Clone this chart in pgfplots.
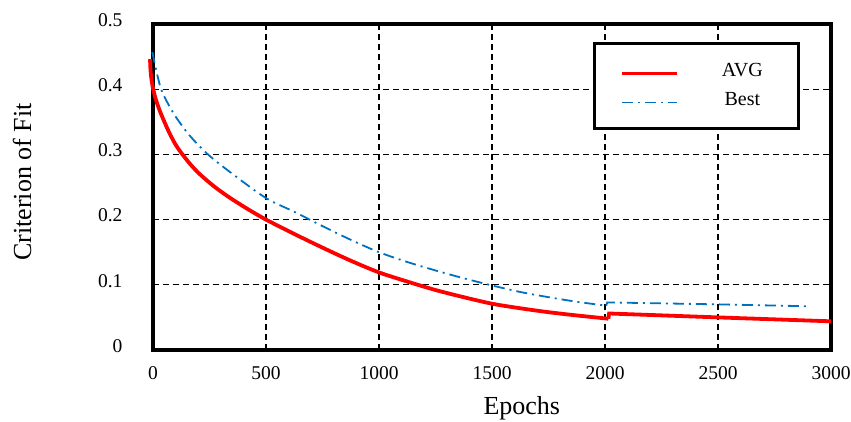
\documentclass[border=0pt]{standalone}
\usepackage{pgfplots}
\pgfplotsset{compat=1.18}
\usepackage{fontspec}
\setmainfont{Liberation Serif}
\definecolor{bestblue}{RGB}{0,112,192}
\begin{document}
\begin{tikzpicture}
\useasboundingbox (-153pt,-71pt) rectangle (698pt,350pt);
\begin{axis}[
  at={(0pt,0pt)}, anchor=south west,
  scale only axis, width=678pt, height=326pt,
  xmin=0, xmax=3000, ymin=0, ymax=0.5,
  clip=false,
  axis line style={line width=4pt},
  xtick={0,500,1000,1500,2000,2500,3000},
  xticklabels={0,500,1000,1500,2000,2500,3000},
  ytick={0,0.1,0.2,0.3,0.4,0.5},
  yticklabels={0,0.1,0.2,0.3,0.4,0.5},
  major tick length=0pt,
  grid=major,
  grid style={black, line width=1.2pt, dash pattern=on 6pt off 4pt},
  xticklabel style={font=\fontsize{19.5}{22}\selectfont, yshift=-13pt},
  yticklabel style={font=\fontsize{19.5}{22}\selectfont, xshift=-27pt, yshift=4pt},
  xlabel={Epochs},
  ylabel={Criterion of Fit},
  xlabel style={font=\fontsize{26}{30}\selectfont, at={(axis description cs:0.544,-0.197)}, anchor=base},
  ylabel style={font=\fontsize{26}{30}\selectfont, at={(axis description cs:-0.193,0.515)}, anchor=center},
  legend style={at={(axis description cs:0.954,0.945)}, anchor=north east,
    draw=black, line width=3pt, fill=white,
    inner xsep=26pt, inner ysep=19pt, row sep=11pt, column sep=33pt,
    font=\fontsize{20}{24}\selectfont,
    cells={anchor=center},
    nodes={inner sep=0pt, text width=60pt, align=center, text height=14pt, text depth=4pt}},
  legend image code/.code={\draw[#1] (0pt,-2pt) -- (55pt,-2pt);},
]
\addplot[red, line width=3.8pt, smooth, tension=0.5] coordinates {
(-13,0.446) (-12,0.435) (-10,0.425) (-6,0.413) (1,0.40) (12,0.385) (31,0.366)
(67,0.337) (100,0.315) (126,0.302) (165,0.285) (206,0.270) (270,0.251) (338,0.234)
(420,0.216) (500,0.200) (625,0.178) (750,0.157) (875,0.137) (1000,0.119)
(1125,0.105) (1250,0.092) (1375,0.081) (1500,0.071) (1625,0.064) (1750,0.058)
(1875,0.053) (2015,0.048)
};
\addlegendentry{AVG}
\addplot[bestblue, line width=1.8pt, smooth, tension=0.5, dash pattern=on 11pt off 5pt on 2pt off 5pt] coordinates {
(-3,0.457) (15,0.428) (34,0.402) (60,0.382) (100,0.358) (162,0.329)
(243,0.30) (352,0.27) (500,0.233) (625,0.212) (750,0.190)
(875,0.169) (1000,0.150) (1125,0.135) (1250,0.122) (1375,0.110) (1500,0.099)
(1625,0.089) (1750,0.081) (1875,0.074) (2005,0.068)
};
\addlegendentry{Best}
\addplot[red, line width=3.8pt, forget plot] coordinates {
(2015,0.048) (2018,0.056) (2500,0.050) (3000,0.044)
};
\addplot[bestblue, line width=1.8pt, forget plot, dash pattern=on 11pt off 5pt on 2pt off 5pt] coordinates {
(2005,0.068) (2010,0.073) (2500,0.070) (2910,0.067)
};
\end{axis}
\end{tikzpicture}
\end{document}
